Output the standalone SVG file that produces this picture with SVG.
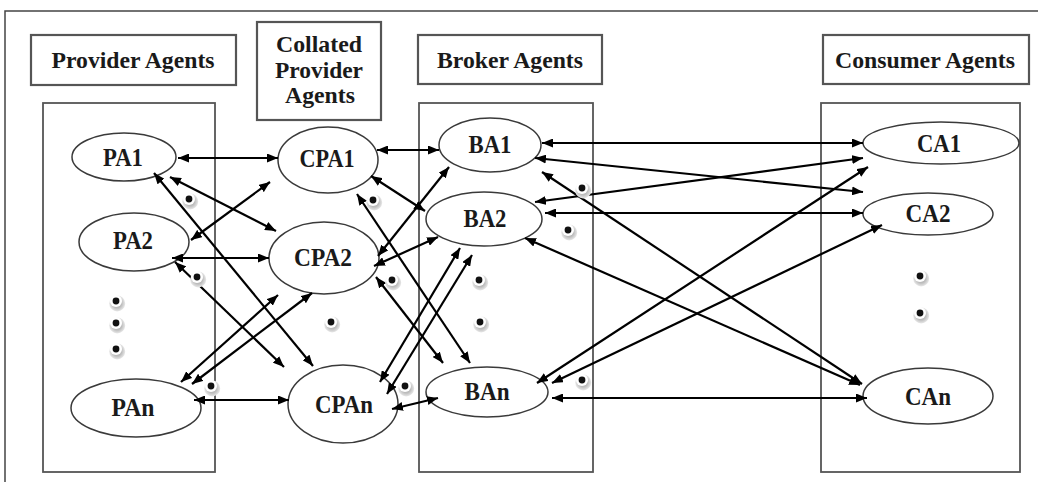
<svg xmlns="http://www.w3.org/2000/svg" width="1038" height="482" viewBox="0 0 1038 482">
<style>
.frame{fill:none;stroke:#444;stroke-width:1.5}
.hbox{fill:#fff;stroke:#555;stroke-width:2.2}
.col{fill:none;stroke:#555;stroke-width:1.8}
.node ellipse{fill:#fff;stroke:#3a3a3a;stroke-width:1.5}
.lbl{font-family:"Liberation Serif","Times New Roman",serif;font-weight:bold;font-size:26px;fill:#1a1a1a;text-anchor:middle}
.hd{font-family:"Liberation Serif","Times New Roman",serif;font-weight:bold;font-size:24px;fill:#1a1a1a;text-anchor:middle}
.conn line{stroke:#000;stroke-width:2.2;marker-start:url(#ah);marker-end:url(#ah)}
</style>
<defs>
<marker id="ah" viewBox="0 0 11 9" refX="11" refY="4.5" markerWidth="11" markerHeight="9" orient="auto-start-reverse" markerUnits="userSpaceOnUse">
<path d="M0,0 L11,4.5 L0,9 z" fill="#000"/>
</marker>
<radialGradient id="sh" cx="0.5" cy="0.5" r="0.5">
<stop offset="0.55" stop-color="#bcbcbc"/>
<stop offset="1" stop-color="#e8e8e8"/>
</radialGradient>
<g id="dot">
<circle cx="1.2" cy="2.4" r="8" fill="url(#sh)"/>
<circle cx="0" cy="0" r="6" fill="#fff"/>
<circle cx="0" cy="0" r="3.4" fill="#111"/>
</g>
</defs>
<rect width="1038" height="482" fill="#fff"/>
<rect class="frame" x="5" y="11" width="1045" height="480"/>

<g id="header-provider"><rect class="hbox" x="31" y="35" width="205" height="50"/><text class="hd" x="133" y="68" textLength="163" lengthAdjust="spacingAndGlyphs">Provider Agents</text></g>
<g id="header-collated"><rect class="hbox" x="257" y="22" width="124" height="98"/>
<text class="hd" x="319" y="52" textLength="86" lengthAdjust="spacingAndGlyphs">Collated</text><text class="hd" x="319" y="78" textLength="88" lengthAdjust="spacingAndGlyphs">Provider</text><text class="hd" x="320" y="103" textLength="70" lengthAdjust="spacingAndGlyphs">Agents</text></g>
<g id="header-broker"><rect class="hbox" x="418" y="35" width="184" height="49"/><text class="hd" x="510" y="68" textLength="146" lengthAdjust="spacingAndGlyphs">Broker Agents</text></g>
<g id="header-consumer"><rect class="hbox" x="823" y="35" width="206" height="49"/><text class="hd" x="925" y="68" textLength="180" lengthAdjust="spacingAndGlyphs">Consumer Agents</text></g>

<g id="column-provider"><rect class="col" x="43" y="103" width="172" height="369"/></g>
<g id="column-broker"><rect class="col" x="419" y="103" width="174" height="369"/></g>
<g id="column-consumer"><rect class="col" x="821" y="103" width="199" height="369"/></g>

<g id="PA1" class="node"><ellipse cx="124" cy="157" rx="52" ry="24"/><text class="lbl" x="123" y="166" textLength="40" lengthAdjust="spacingAndGlyphs">PA1</text></g>
<g id="PA2" class="node"><ellipse cx="134" cy="242" rx="55" ry="29"/><text class="lbl" x="133" y="249" textLength="40" lengthAdjust="spacingAndGlyphs">PA2</text></g>
<g id="PAn" class="node"><ellipse cx="136" cy="408" rx="65" ry="29"/><text class="lbl" x="133" y="416" textLength="43" lengthAdjust="spacingAndGlyphs">PAn</text></g>
<g id="CPA1" class="node"><ellipse cx="328" cy="160" rx="50" ry="33"/><text class="lbl" x="327" y="167" textLength="55" lengthAdjust="spacingAndGlyphs">CPA1</text></g>
<g id="CPA2" class="node"><ellipse cx="324" cy="258" rx="55" ry="36"/><text class="lbl" x="323" y="266" textLength="58" lengthAdjust="spacingAndGlyphs">CPA2</text></g>
<g id="CPAn" class="node"><ellipse cx="343" cy="404" rx="55" ry="39"/><text class="lbl" x="344" y="413" textLength="58" lengthAdjust="spacingAndGlyphs">CPAn</text></g>
<g id="BA1" class="node"><ellipse cx="490" cy="145" rx="51" ry="27"/><text class="lbl" x="490" y="153" textLength="43" lengthAdjust="spacingAndGlyphs">BA1</text></g>
<g id="BA2" class="node"><ellipse cx="484" cy="219" rx="58" ry="27"/><text class="lbl" x="485" y="227" textLength="43" lengthAdjust="spacingAndGlyphs">BA2</text></g>
<g id="BAn" class="node"><ellipse cx="487" cy="392" rx="61" ry="25"/><text class="lbl" x="487" y="400" textLength="45" lengthAdjust="spacingAndGlyphs">BAn</text></g>
<g id="CA1" class="node"><ellipse cx="941" cy="143" rx="78" ry="21"/><text class="lbl" x="939" y="152" textLength="44" lengthAdjust="spacingAndGlyphs">CA1</text></g>
<g id="CA2" class="node"><ellipse cx="928" cy="214" rx="65" ry="21"/><text class="lbl" x="928" y="222" textLength="45" lengthAdjust="spacingAndGlyphs">CA2</text></g>
<g id="CAn" class="node"><ellipse cx="928" cy="396" rx="65" ry="28"/><text class="lbl" x="928" y="405" textLength="46" lengthAdjust="spacingAndGlyphs">CAn</text></g>

<g id="connectors" class="conn">
<line x1="178" y1="158" x2="278" y2="158"/>
<line x1="154" y1="173" x2="313" y2="366"/>
<line x1="170" y1="177" x2="276" y2="231"/>
<line x1="191" y1="240" x2="270" y2="182"/>
<line x1="172" y1="258" x2="269" y2="258"/>
<line x1="175" y1="262" x2="284" y2="367"/>
<line x1="181" y1="382" x2="278" y2="295"/>
<line x1="192" y1="384" x2="312" y2="293"/>
<line x1="194" y1="400" x2="289" y2="400"/>
<line x1="377" y1="150" x2="439" y2="150"/>
<line x1="371" y1="176" x2="425" y2="211"/>
<line x1="357" y1="194" x2="470" y2="363"/>
<line x1="378" y1="256" x2="449" y2="167"/>
<line x1="374" y1="266" x2="438" y2="237"/>
<line x1="376" y1="277" x2="443" y2="363"/>
<line x1="380" y1="382" x2="460" y2="248"/>
<line x1="387" y1="394" x2="472" y2="255"/>
<line x1="392" y1="409" x2="438" y2="398"/>
<line x1="542" y1="143" x2="863" y2="143"/>
<line x1="535" y1="158" x2="863" y2="192"/>
<line x1="535" y1="202" x2="863" y2="158"/>
<line x1="545" y1="213" x2="863" y2="213"/>
<line x1="542" y1="172" x2="862" y2="384"/>
<line x1="525" y1="238" x2="860" y2="385"/>
<line x1="537" y1="383" x2="868" y2="167"/>
<line x1="552" y1="383" x2="882" y2="225"/>
<line x1="552" y1="398" x2="867" y2="398"/>
</g>

<g id="ellipsis-dots">
<use href="#dot" x="189" y="199"/>
<use href="#dot" x="373" y="200"/>
<use href="#dot" x="197" y="277"/>
<use href="#dot" x="116" y="301"/>
<use href="#dot" x="116" y="323"/>
<use href="#dot" x="116" y="349"/>
<use href="#dot" x="211" y="386"/>
<use href="#dot" x="331" y="322"/>
<use href="#dot" x="392" y="280"/>
<use href="#dot" x="405" y="386"/>
<use href="#dot" x="479" y="280"/>
<use href="#dot" x="480" y="322"/>
<use href="#dot" x="582" y="188"/>
<use href="#dot" x="568" y="230"/>
<use href="#dot" x="582" y="380"/>
<use href="#dot" x="920" y="276"/>
<use href="#dot" x="920" y="313"/>
</g>
</svg>
